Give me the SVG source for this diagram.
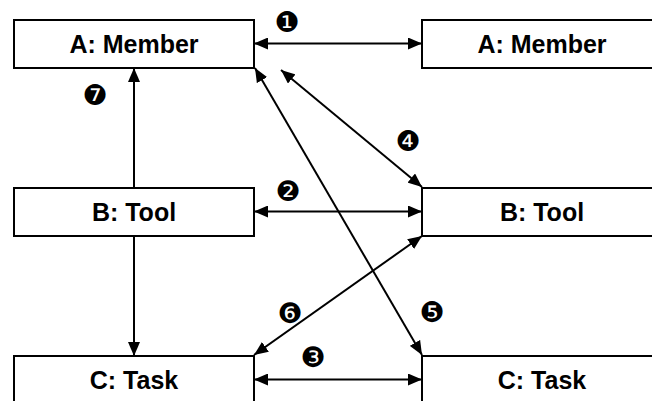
<svg xmlns="http://www.w3.org/2000/svg" width="652" height="401" viewBox="0 0 652 401">
  <defs>
    <marker id="arrow" viewBox="0 0 14 12" refX="14" refY="6" markerWidth="14" markerHeight="12" markerUnits="userSpaceOnUse" orient="auto-start-reverse">
      <path d="M0,0 L14,6 L0,12 Z" fill="#000"/>
    </marker>
    <style>
      .box { fill: #fff; stroke: #000; stroke-width: 2; }
      .name { font-family: "Liberation Sans", Arial, sans-serif; font-weight: bold; font-size: 25px; text-anchor: middle; fill: #000; }
      .link { stroke: #000; stroke-width: 2; fill: none; }
      .both { marker-start: url(#arrow); marker-end: url(#arrow); }
      .one { marker-end: url(#arrow); }
      .num { font-family: "DejaVu Sans", sans-serif; font-size: 28px; text-anchor: middle; dominant-baseline: central; fill: #000; }
    </style>
  </defs>
  <rect width="652" height="401" fill="#fff"/>

  <g id="member-left">
    <rect class="box" x="14" y="20" width="240" height="48"/>
    <text class="name" x="134" y="53">A: Member</text>
  </g>
  <g id="member-right">
    <rect class="box" x="422" y="20" width="240" height="48"/>
    <text class="name" x="542" y="53">A: Member</text>
  </g>
  <g id="tool-left">
    <rect class="box" x="14" y="188" width="240" height="48"/>
    <text class="name" x="134" y="221">B: Tool</text>
  </g>
  <g id="tool-right">
    <rect class="box" x="422" y="188" width="240" height="48"/>
    <text class="name" x="542" y="221">B: Tool</text>
  </g>
  <g id="task-left">
    <rect class="box" x="14" y="356" width="240" height="48"/>
    <text class="name" x="134" y="389">C: Task</text>
  </g>
  <g id="task-right">
    <rect class="box" x="422" y="356" width="240" height="48"/>
    <text class="name" x="542" y="389">C: Task</text>
  </g>

  <g id="connectors">
    <line class="link both" x1="254" y1="43.5" x2="422" y2="43.5"/>
    <line class="link both" x1="254" y1="211.5" x2="422" y2="211.5"/>
    <line class="link both" x1="254" y1="379.5" x2="422" y2="379.5"/>
    <line class="link both" x1="281" y1="70" x2="422" y2="187"/>
    <line class="link both" x1="255" y1="68" x2="422" y2="355"/>
    <line class="link both" x1="422" y1="236" x2="254" y2="355"/>
    <line class="link one" x1="134" y1="188" x2="134" y2="68"/>
    <line class="link one" x1="134" y1="236" x2="134" y2="356"/>
  </g>

  <g id="labels">
    <text class="num" x="287" y="22">❶</text>
    <text class="num" x="288" y="191">❷</text>
    <text class="num" x="313" y="357">❸</text>
    <text class="num" x="408" y="141">❹</text>
    <text class="num" x="432" y="312">❺</text>
    <text class="num" x="290" y="313">❻</text>
    <text class="num" x="95" y="95">❼</text>
  </g>
</svg>
